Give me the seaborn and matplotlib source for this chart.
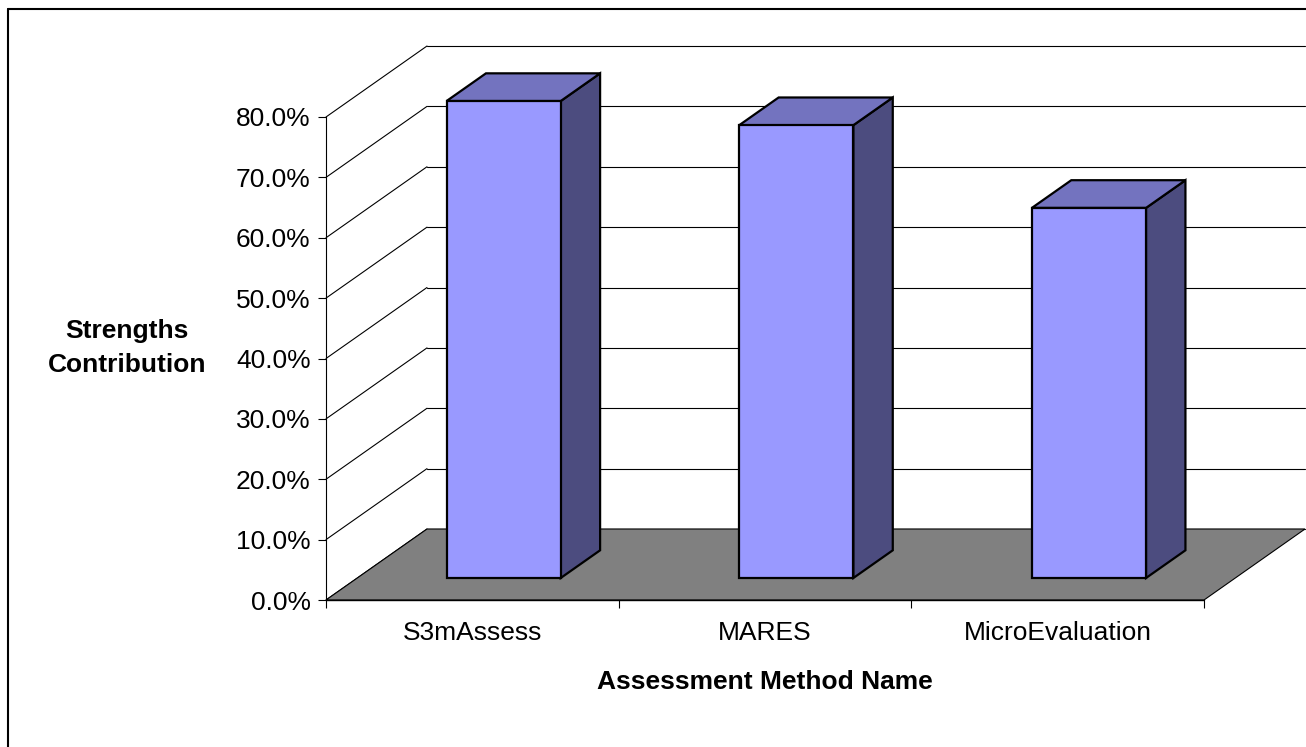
import numpy as np
import matplotlib
matplotlib.use("Agg")
import matplotlib.pyplot as plt
import seaborn as sns
from matplotlib.patches import Polygon
from matplotlib.lines import Line2D
from matplotlib.transforms import ScaledTranslation

# data
methods = ["S3mAssess", "MARES", "MicroEvaluation"]
strengths = [79.0, 75.0, 61.3]
y_ticks = [0, 10, 20, 30, 40, 50, 60, 70, 80]

sns.set_style("white")
plt.rcParams['font.family'] = ['Liberation Sans', 'DejaVu Sans']
plt.rcParams['text.color'] = 'black'
plt.rcParams['axes.labelcolor'] = 'black'
plt.rcParams['xtick.color'] = 'black'
plt.rcParams['ytick.color'] = 'black'

W, H = 1306, 747
fig = plt.figure(figsize=(W / 100, H / 100), dpi=100)
# front plane of the 3d box, in pixels of the picture
ax = fig.add_axes([326 / W, (H - 600) / H, (1204 - 326) / W, (600 - 117) / H])
ax.patch.set_visible(False)

# depth of the box (inches) and where the bars sit inside it
DX, DY = 1.01, 0.71
F1, F2 = 0.31, 0.70

sns.barplot(x=methods, y=strengths, color="#9999FF", width=0.39,
            edgecolor="black", linewidth=1.6, saturation=1, ax=ax)
ax.set_xlim(-0.5, 2.5)
ax.set_ylim(0, 80)


def pt(x, y, f):
    X, Y = ax.transData.transform((x, y))
    X += f * DX * fig.dpi
    Y += f * DY * fig.dpi
    return fig.transFigure.inverted().transform((X, Y))


def poly(points, **kw):
    p = Polygon(points, closed=True, transform=fig.transFigure, clip_on=False, **kw)
    ax.add_artist(p)


def line(a, b, **kw):
    l = Line2D([a[0], b[0]], [a[1], b[1]], transform=fig.transFigure, clip_on=False, **kw)
    ax.add_artist(l)


x0, x1 = ax.get_xlim()

# walls
for yv in y_ticks:
    line(pt(x0, yv, 0), pt(x0, yv, 1), color="black", lw=0.8, zorder=1)
    line(pt(x0, yv, 1), pt(x1, yv, 1), color="black", lw=0.8, zorder=1)

# floor
poly([pt(x0, 0, 0), pt(x1, 0, 0), pt(x1, 0, 1), pt(x0, 0, 1)],
     facecolor="#808080", edgecolor="black", lw=0.8, zorder=2)

# bars: shift the seaborn front faces back, then add top and side
shift = ax.transData + ScaledTranslation(F1 * DX, F1 * DY, fig.dpi_scale_trans)
for p in ax.patches:
    if not hasattr(p, "get_width"):
        continue
    bx0 = p.get_x()
    bx1 = p.get_x() + p.get_width()
    h = p.get_height()
    p.set_transform(shift)
    p.set_clip_on(False)
    p.set_zorder(5)
    poly([pt(bx1, 0, F1), pt(bx1, h, F1), pt(bx1, h, F2), pt(bx1, 0, F2)],
         facecolor="#4C4C7F", edgecolor="black", lw=1.6, zorder=4)
    poly([pt(bx0, h, F1), pt(bx1, h, F1), pt(bx1, h, F2), pt(bx0, h, F2)],
         facecolor="#7373BF", edgecolor="black", lw=1.6, zorder=4)

# axes
for s in ["top", "right", "bottom"]:
    ax.spines[s].set_visible(False)
ax.spines["left"].set_color("black")
ax.spines["left"].set_linewidth(0.8)
ax.set_yticks(y_ticks)
ax.set_yticklabels([f"{v:.1f}%" for v in y_ticks], fontsize=19)
ax.tick_params(axis="y", length=6, width=0.8, color="black", pad=5, left=True)
ax.set_xticks([-0.5, 0.5, 1.5, 2.5], minor=True)
ax.tick_params(axis="x", which="minor", length=6, width=0.8, color="black", bottom=True)
ax.tick_params(axis="x", which="major", length=0, pad=15, labelsize=19)
line(pt(x0, 0, 0), pt(x1, 0, 0), color="black", lw=1, zorder=3)

ax.set_xlabel("Assessment Method Name", fontsize=19, fontweight="bold", va="center")
ax.xaxis.set_label_coords(0.5, -0.17)
ax.set_ylabel("Strengths\nContribution", fontsize=19, fontweight="bold",
              rotation=0, ha="center", va="center", linespacing=1.55)
ax.yaxis.set_label_coords(-0.227, 0.522)

# outer chart border (runs off the right and bottom)
fig.add_artist(Line2D([8 / W, 1.0], [(H - 9) / H, (H - 9) / H], color="black", lw=1.5))
fig.add_artist(Line2D([8 / W, 8 / W], [(H - 9) / H, 0], color="black", lw=1.5))

fig.savefig("out.png", dpi=100)
